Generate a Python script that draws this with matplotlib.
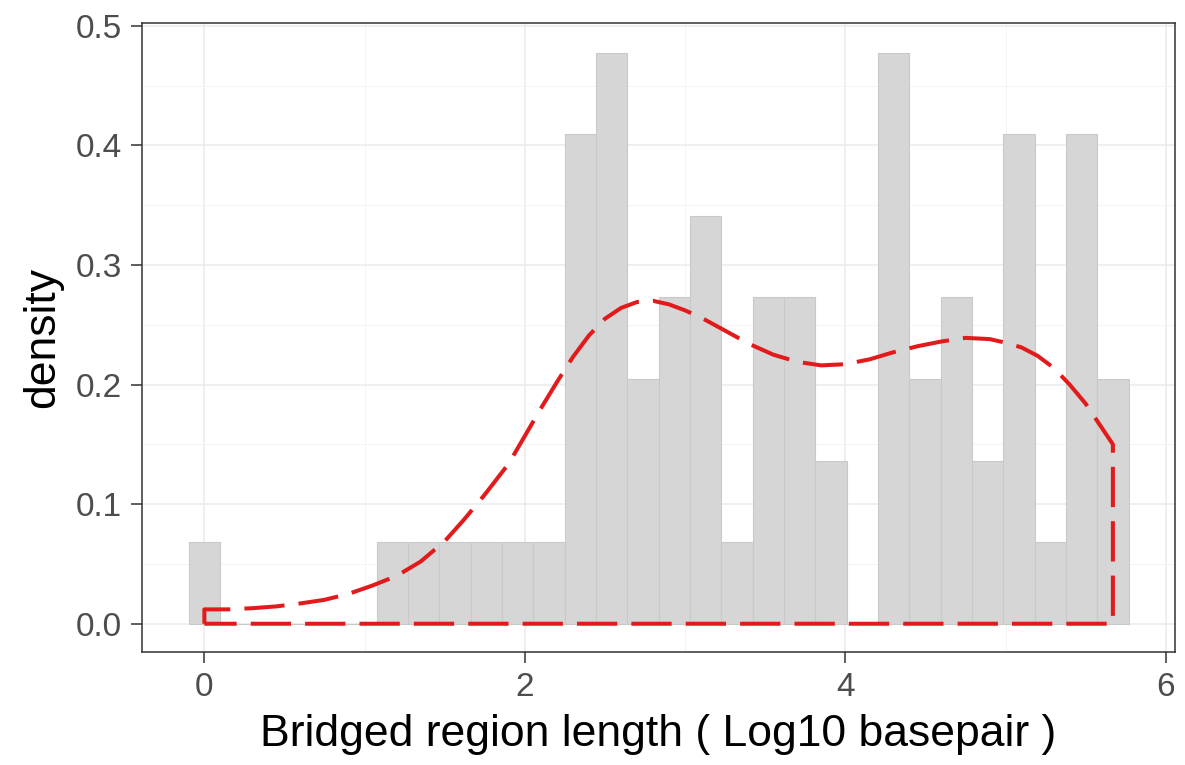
import numpy as np
import matplotlib
matplotlib.use("Agg")
import matplotlib.pyplot as plt

plt.rcParams['font.family'] = ['Liberation Sans', 'DejaVu Sans']

# histogram: 30 bins, centres from min to max of the data
x_min = 0.0
x_max = 5.67
bin_counts = [1, 0, 0, 0, 0, 0, 1, 1, 1, 1, 1, 1, 6, 7, 3,
              4, 5, 1, 4, 4, 2, 0, 7, 3, 4, 2, 6, 1, 6, 3]

# density curve
curve_x = [0.00, 0.15, 0.30, 0.45, 0.60, 0.75, 0.90, 1.05, 1.20, 1.35,
           1.50, 1.62, 1.75, 1.90, 2.00,
           2.10, 2.20, 2.30, 2.40, 2.50, 2.60, 2.70, 2.80, 2.90, 3.00,
           3.10, 3.25, 3.40, 3.55, 3.70, 3.85, 4.00, 4.15, 4.30, 4.45,
           4.60, 4.75, 4.90, 5.00, 5.10, 5.20, 5.30, 5.40, 5.50, 5.60, 5.67]
curve_y = [0.012, 0.012, 0.013, 0.0145, 0.017, 0.020, 0.025, 0.032, 0.040, 0.052,
           0.069, 0.087, 0.108, 0.134, 0.157,
           0.180, 0.202, 0.223, 0.241, 0.255, 0.264, 0.269, 0.270, 0.267, 0.262,
           0.256, 0.245, 0.234, 0.225, 0.219, 0.216, 0.217, 0.221, 0.227, 0.232,
           0.236, 0.239, 0.238, 0.235, 0.231, 0.224, 0.214, 0.200, 0.184, 0.164, 0.150]

counts = np.array(bin_counts, dtype=float)
n_bins = len(counts)
width = (x_max - x_min) / (n_bins - 1)
centers = np.linspace(x_min, x_max, n_bins)
dens = counts / (counts.sum() * width)

fig = plt.figure(figsize=(11.85, 7.65), dpi=100)
ax = fig.add_axes([0.1196, 0.1473, 0.872, 0.8222])

ax.bar(centers, dens, width=width, color='#d6d6d6', edgecolor='#c9c9c9',
       linewidth=0.8, zorder=2)

# outline of the density area, closed down to zero like ggplot does
px = [curve_x[0]] + curve_x + [curve_x[-1], curve_x[0]]
py = [0.0] + curve_y + [0.0, 0.0]
ax.plot(px, py, color='#e31a1c', linewidth=2.9, linestyle=(0, (10, 3.5)),
        dash_capstyle='butt', solid_joinstyle='round', zorder=3)

ax.set_xlim(-0.391, 6.058)
ax.set_ylim(-0.0239, 0.502)
ax.set_xticks([0, 2, 4, 6])
ax.set_yticks([0.0, 0.1, 0.2, 0.3, 0.4, 0.5])
ax.set_yticklabels(['0.0', '0.1', '0.2', '0.3', '0.4', '0.5'])
ax.set_xticks([1, 3, 5], minor=True)
ax.set_yticks([0.05, 0.15, 0.25, 0.35, 0.45], minor=True)
ax.tick_params(which='minor', length=0)
ax.tick_params(which='major', length=8, width=1.1, color='#333333',
               labelsize=24, labelcolor='#4d4d4d', pad=6)

ax.grid(True, which='major', color='#ebebeb', linewidth=1.1, zorder=0)
ax.grid(True, which='minor', color='#f3f3f3', linewidth=0.6, zorder=0)
ax.set_axisbelow(True)
for s in ax.spines.values():
    s.set_color('#333333')
    s.set_linewidth(1.1)

ax.set_xlabel('Bridged region length ( Log10 basepair )', fontsize=32, labelpad=8)
ax.set_ylabel('density', fontsize=32, labelpad=9)

fig.savefig('out.png', dpi=100)
